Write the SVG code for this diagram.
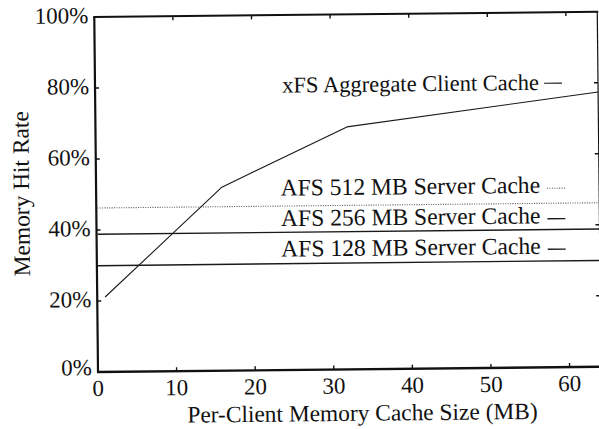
<svg xmlns="http://www.w3.org/2000/svg" width="599" height="429" viewBox="0 0 599 429" font-family="'Liberation Serif', 'Times New Roman', serif">
  <style>
    text { font-family: "Liberation Serif", "Times New Roman", serif; fill: #111; }
    .tick { font-size: 23px; }
    .ylab { text-anchor: end; }
    .xlab { text-anchor: middle; }
    .title { font-size: 23.4px; text-anchor: middle; }
    .legend { font-size: 23.6px; text-anchor: end; }
    .legend.xfs-label { font-size: 22.5px; }
    .frame { fill: none; stroke: #111; }
    .ticks line { stroke: #111; stroke-width: 1.4; }
    .series { fill: none; stroke: #1a1a1a; stroke-linejoin: round; }
    .xfs { stroke-width: 1.1; }
    .afs512 { stroke: #555; stroke-width: 1.1; stroke-dasharray: 1 1.4; }
    .afs256, .afs128 { stroke-width: 1.4; }
  </style>
  <rect width="599" height="429" fill="#fff"/>
  <!-- whole chart sits slightly tilted about the plot origin -->
  <g transform="rotate(-0.6 98 372)">
    <!-- plot frame: x 0..64 MB maps to 98..601, y 0..100% maps to 372..17 -->
    <g id="frame">
      <line class="frame" x1="98" y1="372" x2="98" y2="17" stroke-width="2.2"/>
      <line class="frame" x1="97" y1="372" x2="602" y2="372" stroke-width="2.4"/>
      <line class="frame" x1="97" y1="17" x2="602" y2="17" stroke-width="2"/>
      <line class="frame" x1="601" y1="17" x2="601" y2="372" stroke-width="1.2"/>
    </g>
    <g id="ticks" class="ticks">
      <line x1="98" y1="301" x2="102" y2="301"/>
      <line x1="98" y1="230" x2="102" y2="230"/>
      <line x1="98" y1="159" x2="102" y2="159"/>
      <line x1="98" y1="88" x2="102" y2="88"/>
      <line x1="601" y1="301" x2="597" y2="301"/>
      <line x1="601" y1="230" x2="597" y2="230"/>
      <line x1="601" y1="159" x2="597" y2="159"/>
      <line x1="601" y1="88" x2="597" y2="88"/>
      <line x1="176.6" y1="372" x2="176.6" y2="368"/>
      <line x1="255.2" y1="372" x2="255.2" y2="368"/>
      <line x1="333.8" y1="372" x2="333.8" y2="368"/>
      <line x1="412.4" y1="372" x2="412.4" y2="368"/>
      <line x1="491" y1="372" x2="491" y2="368"/>
      <line x1="569.6" y1="372" x2="569.6" y2="368"/>
      <line x1="176.6" y1="17" x2="176.6" y2="21"/>
      <line x1="255.2" y1="17" x2="255.2" y2="21"/>
      <line x1="333.8" y1="17" x2="333.8" y2="21"/>
      <line x1="412.4" y1="17" x2="412.4" y2="21"/>
      <line x1="491" y1="17" x2="491" y2="21"/>
      <line x1="569.6" y1="17" x2="569.6" y2="21"/>
    </g>
    <g id="y-axis-labels" class="tick ylab">
      <text x="92" y="375">0%</text>
      <text x="92" y="307">20%</text>
      <text x="92" y="236">40%</text>
      <text x="92" y="165">60%</text>
      <text x="92" y="94">80%</text>
      <text x="92" y="23">100%</text>
    </g>
    <g id="x-axis-labels" class="tick xlab">
      <text x="98" y="396">0</text>
      <text x="176.6" y="396">10</text>
      <text x="255.2" y="396">20</text>
      <text x="333.8" y="396">30</text>
      <text x="412.4" y="396">40</text>
      <text x="491" y="396">50</text>
      <text x="569.6" y="396">60</text>
    </g>
    <text id="x-title" class="title" x="362" y="423.5">Per-Client Memory Cache Size (MB)</text>
    <text id="y-title" class="title" transform="translate(31 193) rotate(-90)">Memory Hit Rate</text>

    <!-- data series -->
    <g id="connectors">
      <polyline id="xfs" class="series xfs" points="105.9,297.1 223.8,188.5 349.5,129.5 601,97.2"/>
      <line id="afs512" class="series afs512" x1="99" y1="208" x2="601" y2="208"/>
      <line id="afs256" class="series afs256" x1="99" y1="234.3" x2="601" y2="234.3"/>
      <line id="afs128" class="series afs128" x1="99" y1="265.7" x2="601" y2="265.7"/>
    </g>

    <!-- legend entries: label followed by a short line sample -->
    <g id="legend-xfs">
      <text class="legend xfs-label" x="542" y="94.5">xFS Aggregate Client Cache</text>
      <line class="series xfs" x1="547" y1="88" x2="565" y2="88"/>
    </g>
    <g id="legend-afs512">
      <text class="legend" x="542" y="197.5">AFS 512 MB Server Cache</text>
      <line class="series afs512" x1="549" y1="193" x2="567" y2="193"/>
    </g>
    <g id="legend-afs256">
      <text class="legend" x="542" y="228">AFS 256 MB Server Cache</text>
      <line class="series afs256" x1="549" y1="223.5" x2="567" y2="223.5"/>
    </g>
    <g id="legend-afs128">
      <text class="legend" x="542" y="258.5">AFS 128 MB Server Cache</text>
      <line class="series afs128" x1="549" y1="254" x2="567" y2="254"/>
    </g>
  </g>
</svg>
